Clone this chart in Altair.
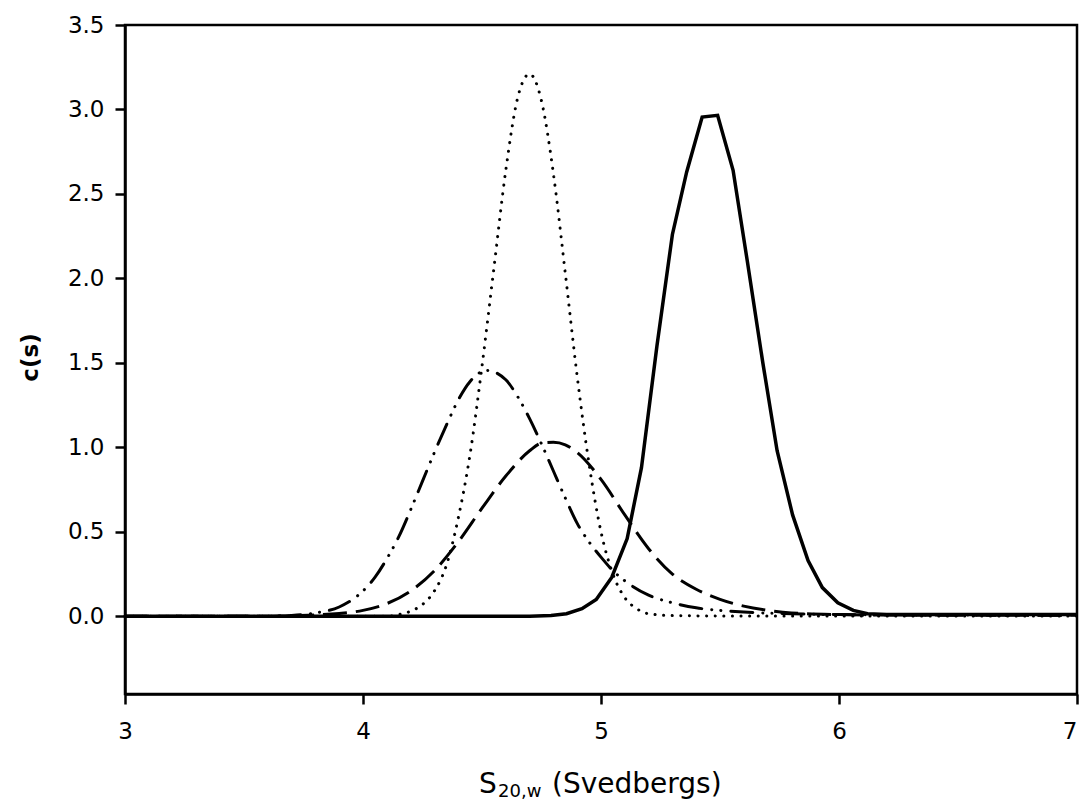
import altair as alt
import pandas as pd

# ---- data ----
solid_s = [3.0, 4.7, 4.79, 4.855, 4.92, 4.98, 5.045, 5.11, 5.17, 5.235, 5.30, 5.36, 5.425, 5.49,
           5.555, 5.615, 5.68, 5.74, 5.805, 5.87, 5.93, 5.995, 6.06, 6.12, 6.2, 7.0]
solid_c = [0, 0, 0.005, 0.015, 0.045, 0.10, 0.23, 0.46, 0.88, 1.60, 2.26, 2.63, 2.955, 2.965,
           2.64, 2.10, 1.50, 0.98, 0.60, 0.33, 0.17, 0.08, 0.035, 0.015, 0.01, 0.01]

dotted_s = [3.0, 4.1, 4.15, 4.2, 4.25, 4.3, 4.35, 4.4, 4.45, 4.5, 4.55, 4.6, 4.65, 4.7, 4.75,
            4.8, 4.85, 4.9, 4.95, 5.0, 5.05, 5.1, 5.15, 5.2, 5.3, 5.5, 7.0]
dotted_c = [0, 0, 0.01, 0.03, 0.07, 0.15, 0.30, 0.58, 0.96, 1.48, 2.06, 2.64, 3.07, 3.21, 3.05,
            2.62, 2.03, 1.42, 0.90, 0.50, 0.25, 0.11, 0.045, 0.015, 0.004, 0.002, 0.002]

dashdot_s = [3.0, 3.6, 3.7, 3.8, 3.9, 4.0, 4.05, 4.1, 4.15, 4.2, 4.25, 4.3, 4.35, 4.4, 4.45,
             4.52, 4.6, 4.65, 4.7, 4.75, 4.8, 4.85, 4.9, 4.95, 5.0, 5.05, 5.1, 5.2, 5.3, 5.4,
             5.5, 5.6, 5.8, 6.0, 7.0]
dashdot_c = [0, 0, 0.005, 0.02, 0.055, 0.15, 0.23, 0.34, 0.47, 0.63, 0.80, 0.97, 1.13, 1.28, 1.39,
             1.455, 1.40, 1.30, 1.17, 1.02, 0.86, 0.70, 0.55, 0.44, 0.35, 0.27, 0.21, 0.125, 0.08, 0.05,
             0.035, 0.025, 0.015, 0.01, 0.006]

dashed_s = [3.0, 3.6, 3.7, 3.8, 3.9, 4.0, 4.1, 4.2, 4.3, 4.4, 4.5, 4.6, 4.7, 4.75, 4.8, 4.85,
            4.9, 5.0, 5.1, 5.2, 5.3, 5.4, 5.5, 5.6, 5.7, 5.8, 6.0, 6.2, 7.0]
dashed_c = [0, 0, 0.004, 0.008, 0.017, 0.035, 0.075, 0.15, 0.27, 0.44, 0.64, 0.83, 0.98, 1.025, 1.03, 1.015,
            0.97, 0.81, 0.60, 0.40, 0.25, 0.16, 0.10, 0.06, 0.035, 0.02, 0.01, 0.007, 0.006]

x_ticks = [3, 4, 5, 6, 7]
y_ticks = [0.0, 0.5, 1.0, 1.5, 2.0, 2.5, 3.0, 3.5]
y_title = "c(s)"
x_title_parts = ["S", "20,w", "(Svedbergs)"]

FONT = "DejaVu Sans"

x_scale = alt.Scale(domain=[3, 7], nice=False, zero=False)
y_scale = alt.Scale(domain=[-0.46, 3.5], nice=False, zero=False)

x_axis = alt.Axis(values=x_ticks, format="d", title=None, labelFont=FONT, labelFontSize=23,
                  labelColor="black", labelPadding=16, tickSize=10, tickWidth=2.5,
                  tickColor="black", domainColor="black", domainWidth=2.5, grid=False,
                  labelFlush=False,
                  labelAlign={"condition": {"test": "datum.value == 7", "value": "right"},
                              "value": "center"})
y_axis = alt.Axis(values=y_ticks, format=".1f", title=y_title, labelFont=FONT, labelFontSize=23,
                  labelColor="black", labelPadding=11, tickSize=10, tickWidth=2.5,
                  tickColor="black", domainColor="black", domainWidth=2.5, grid=False,
                  titleFont=FONT, titleFontSize=23, titleFontWeight="bold", titleColor="black",
                  titleAngle=270, titleX=-95, titleY=332, titleBaseline="middle", titleAlign="center",
                  labelFlush=False)


def series(s, c, **mark):
    df = pd.DataFrame({"s": s, "c": c})
    return alt.Chart(df).mark_line(color="black", **mark).encode(
        x=alt.X("s:Q", scale=x_scale, axis=x_axis),
        y=alt.Y("c:Q", scale=y_scale, axis=y_axis),
    )


dashed = series(dashed_s, dashed_c, strokeWidth=3, strokeDash=[24, 9], interpolate="monotone")
dashdot = series(dashdot_s, dashdot_c, strokeWidth=3, strokeDash=[22, 10, 0.1, 9, 0.1, 10],
                 strokeCap="round", interpolate="monotone")
dotted = series(dotted_s, dotted_c, strokeWidth=3, strokeDash=[0.1, 8.5], strokeCap="round",
                interpolate="monotone")
solid = series(solid_s, solid_c, strokeWidth=3.5, interpolate="linear")


def label(text, x, y, size):
    return alt.Chart(pd.DataFrame({"t": [text]})).mark_text(
        align="left", baseline="alphabetic", font=FONT, fontSize=size, color="black"
    ).encode(x=alt.value(x), y=alt.value(y), text="t:N")


t1 = label(x_title_parts[0], 354, 768, 28)
t2 = label(x_title_parts[1], 373, 772, 18)
t3 = label(x_title_parts[2], 427, 768, 28)

chart = alt.layer(dashed, dashdot, dotted, solid, t1, t2, t3).properties(
    width=952, height=669,
    background="white",
    autosize=alt.AutoSizeParams(type="none"),
    padding={"left": 117, "top": 17, "right": 2, "bottom": 108},
).configure_view(stroke="black", strokeWidth=2.5)

chart.save("out.html", embed_options={"renderer": "svg", "actions": False})
